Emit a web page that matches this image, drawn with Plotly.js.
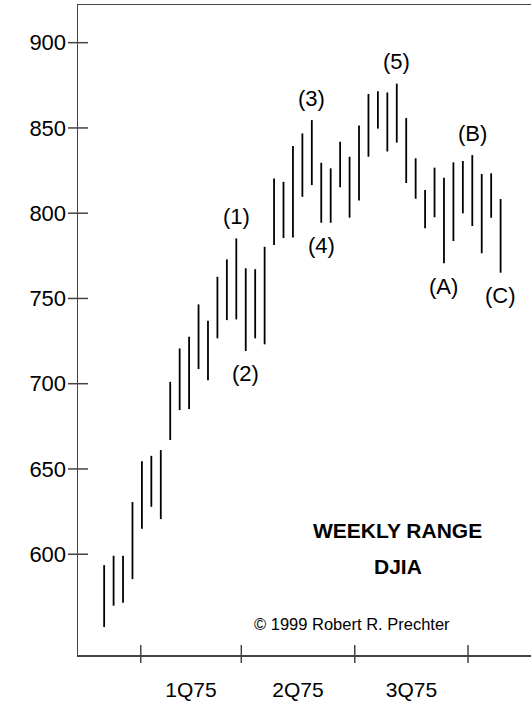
<!DOCTYPE html>
<html>
<head>
<meta charset="utf-8">
<script src="https://cdn.plot.ly/plotly-3.0.1.min.js"></script>
<style>html,body{margin:0;padding:0;background:#fff;}#chart{width:531px;height:705px;}</style>
</head>
<body>
<div id="chart"></div>
<script>
// Weekly DJIA ranges, late 1974 - Q3 1975
const weeklyHigh = [593.6, 599.1, 599.1, 630.6, 654.6, 657.7, 661.1, 701.1, 720.7, 727.5,
  746.5, 736.9, 762.7, 772.9, 785.2, 767.7, 767.2, 780.3, 820.4, 818.4,
  839.4, 846.8, 854.6, 829.6, 826.3, 841.9, 833.1, 851.4, 869.9, 871.5,
  870.8, 876.0, 855.8, 832.2, 813.6, 826.7, 820.8, 829.8, 830.6, 834.1,
  823.0, 823.4, 808.3];
const weeklyLow = [557.3, 569.8, 571.5, 585.4, 614.9, 627.8, 620.6, 667.0, 684.5, 685.1,
  708.6, 702.1, 726.6, 737.3, 737.7, 719.2, 726.6, 723.1, 781.3, 785.4,
  785.8, 809.6, 816.5, 794.4, 794.4, 815.2, 797.4, 807.4, 833.1, 849.6,
  836.2, 841.4, 817.7, 808.5, 791.1, 797.6, 770.6, 783.7, 799.9, 792.5,
  776.5, 797.3, 765.1];

// Quarter boundaries (in week units) and quarter names
const quarterStarts = [3.88, 14.53, 26.55, 38.55];
const quarterLabels = ['1Q75', '2Q75', '3Q75'];

// Y axis ticks
const yTicks = [600, 650, 700, 750, 800, 850, 900];

// Elliott wave labels: text, week index, side of the bar
const waveText = ['(1)', '(2)', '(3)', '(4)', '(5)', '(A)', '(B)', '(C)'];
const waveWeek = [14, 15, 22, 23, 31, 36, 39, 42];
const waveSide = ['high', 'low', 'high', 'low', 'high', 'low', 'high', 'low'];

const FONT = 'Liberation Sans, Arial, Helvetica, sans-serif';

// Build vertical range bars
const bx = [], by = [];
weeklyHigh.forEach((h, i) => {
  bx.push(i, i, null);
  by.push(weeklyLow[i], h, null);
});

const trace = {
  type: 'scatter', mode: 'lines', x: bx, y: by,
  line: {color: '#000', width: 1.8},
  hoverinfo: 'skip', showlegend: false, connectgaps: false
};

const qMid = quarterLabels.map((_, i) => (quarterStarts[i] + quarterStarts[i + 1]) / 2);

const shapes = [];
quarterStarts.forEach(q => shapes.push({
  type: 'line', xref: 'x', yref: 'paper', ysizemode: 'pixel', yanchor: 0,
  x0: q, x1: q, y0: -8, y1: 10, line: {color: '#444', width: 1.5}
}));
yTicks.forEach(t => shapes.push({
  type: 'line', yref: 'y', xref: 'paper', xsizemode: 'pixel', xanchor: 0,
  y0: t, y1: t, x0: -10, x1: 10, line: {color: '#444', width: 1.5}
}));

const annotations = waveText.map((t, k) => {
  const i = waveWeek[k];
  const up = waveSide[k] === 'high';
  return {
    x: i, y: up ? weeklyHigh[i] : weeklyLow[i], xref: 'x', yref: 'y',
    text: t, showarrow: false, xanchor: 'center', yanchor: 'middle',
    yshift: up ? 22 : -23, font: {family: FONT, size: 22, color: '#000'}
  };
});
annotations.push(
  {xref: 'paper', yref: 'paper', x: 0.7064, y: 0.1923, text: '<b>WEEKLY RANGE</b>',
   showarrow: false, xanchor: 'center', yanchor: 'middle', font: {family: FONT, size: 21, color: '#000'}},
  {xref: 'paper', yref: 'paper', x: 0.7064, y: 0.1369, text: '<b>DJIA</b>',
   showarrow: false, xanchor: 'center', yanchor: 'middle', font: {family: FONT, size: 21, color: '#000'}},
  {xref: 'paper', yref: 'paper', x: 0.6055, y: 0.0477, text: '© 1999 Robert R. Prechter',
   showarrow: false, xanchor: 'center', yanchor: 'middle', font: {family: FONT, size: 16.5, color: '#000'}}
);

const layout = {
  width: 531, height: 705,
  margin: {l: 78, r: 0, t: 5, b: 50},
  paper_bgcolor: '#fff', plot_bgcolor: '#fff',
  showlegend: false,
  xaxis: {
    range: [-2.77, 45.22], showgrid: false, zeroline: false,
    showline: true, linecolor: '#444', linewidth: 1.5, mirror: true,
    tickmode: 'array', tickvals: qMid, ticktext: quarterLabels,
    ticks: '', ticklabelstandoff: 15,
    tickfont: {family: FONT, size: 21, color: '#000'}, fixedrange: true
  },
  yaxis: {
    range: [540.9, 922.1], showgrid: false, zeroline: false,
    showline: true, linecolor: '#444', linewidth: 1.5,
    tickmode: 'array', tickvals: yTicks, ticks: 'outside', ticklen: 6,
    tickcolor: 'rgba(0,0,0,0)', tickwidth: 1,
    tickfont: {family: FONT, size: 22, color: '#000'}, fixedrange: true
  },
  shapes: shapes,
  annotations: annotations
};

Plotly.newPlot('chart', [trace], layout, {staticPlot: true, displayModeBar: false});
</script>
</body>
</html>
